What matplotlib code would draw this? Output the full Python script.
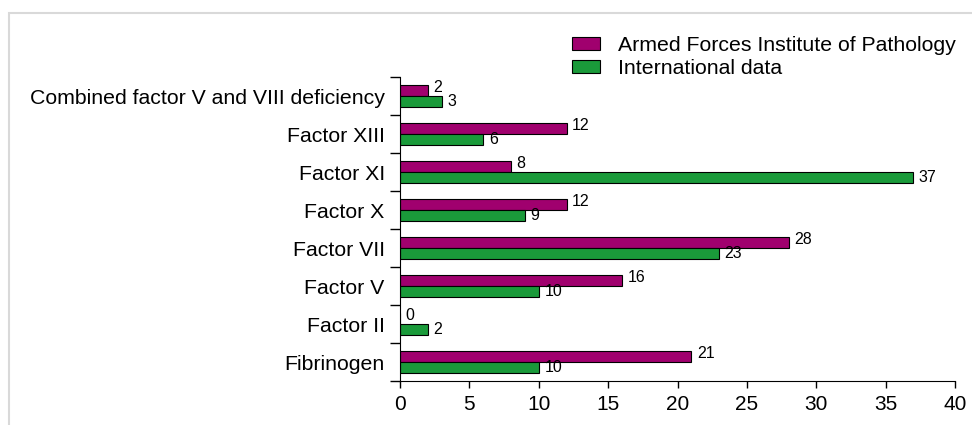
import numpy as np
import matplotlib.pyplot as plt
from matplotlib.patches import Rectangle, Patch

plt.rcParams['font.family'] = ['Liberation Sans', 'DejaVu Sans']

categories = ["Fibrinogen", "Factor II", "Factor V", "Factor VII", "Factor X",
              "Factor XI", "Factor XIII", "Combined factor V and VIII deficiency"]
afip = [21, 0, 16, 28, 12, 8, 12, 2]
intl = [10, 2, 10, 23, 9, 37, 6, 3]
series_names = ["Armed Forces Institute of Pathology", "International data"]
c_afip = "#a0006e"
c_intl = "#1a9a3a"

fig = plt.figure(figsize=(9.72, 4.25), dpi=100)
ax = fig.add_axes([400/972, 1 - 381/425, 555/972, 304/425])

# light frame round the picture
fig.patches.append(Rectangle((8.5/972, -0.1), 1.2, 0.1 + 1 - 13.5/425,
                             transform=fig.transFigure, fill=False,
                             edgecolor="#d9d9d9", linewidth=1.5))

y = np.arange(len(categories))
h = 0.3
ax.barh(y + h/2, afip, height=h, color=c_afip, edgecolor="black", linewidth=0.8)
ax.barh(y - h/2, intl, height=h, color=c_intl, edgecolor="black", linewidth=0.8)

for yi, a, b in zip(y, afip, intl):
    ax.annotate(str(a), (a, yi + h/2), xytext=(4, 2), textcoords="offset points",
                va="center", ha="left", fontsize=11.5)
    ax.annotate(str(b), (b, yi - h/2), xytext=(4, 0), textcoords="offset points",
                va="center", ha="left", fontsize=11.5)

ax.set_xlim(0, 40)
ax.set_ylim(-0.5, len(categories) - 0.5)
ax.set_xticks(np.arange(0, 41, 5))
ax.tick_params(axis="x", labelsize=15, length=5, width=1, pad=5)
ax.set_yticks(np.arange(-0.5, len(categories), 1))
ax.set_yticklabels([])
ax.set_yticks(y, minor=True)
ax.set_yticklabels(categories, minor=True, fontsize=15.3)
ax.tick_params(axis="y", which="major", length=7, width=1)
ax.tick_params(axis="y", which="minor", length=0, pad=11)
ax.spines["top"].set_visible(False)
ax.spines["right"].set_visible(False)

handles = [Patch(facecolor=c_afip, edgecolor="black", linewidth=0.8),
           Patch(facecolor=c_intl, edgecolor="black", linewidth=0.8)]
fig.legend(handles, series_names, loc="upper left",
           bbox_to_anchor=(572/972, 1 - 36/425), frameon=False, fontsize=15.3,
           handlelength=1.32, handleheight=0.56, handletextpad=0.85,
           labelspacing=0.18, borderaxespad=0, borderpad=0)

fig.savefig("out.png", dpi=100)
